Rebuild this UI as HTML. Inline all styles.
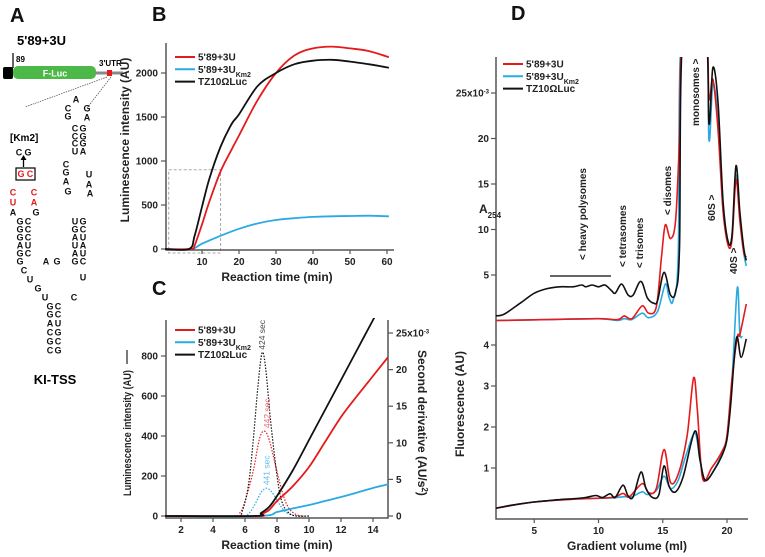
<!DOCTYPE html>
<html><head><meta charset="utf-8"><style>
html,body{margin:0;padding:0;background:#fff;}
svg{display:block;font-family:"Liberation Sans",sans-serif;}
.t{font-size:10px;font-weight:bold;fill:#222;}
.ti{font-size:12px;font-weight:bold;fill:#222;}
.lg{font-size:10px;font-weight:bold;fill:#222;}
.nt{font-size:9px;font-weight:bold;fill:#111;text-anchor:middle;dominant-baseline:middle;}
.rd{fill:#e41a1c;}
.pl{font-size:20px;font-weight:bold;fill:#111;}
</style></head><body>
<svg id="fig" width="765" height="557" viewBox="0 0 765 557">
<defs>
<clipPath id="clipB"><rect x="165" y="40" width="230" height="212"/></clipPath>
<clipPath id="clipC"><rect x="165" y="318" width="223" height="200"/></clipPath>
<clipPath id="clipD"><rect x="496" y="57" width="252" height="462"/></clipPath>
</defs>

<!-- Panel A -->
<g>
<text x="10" y="22" class="pl">A</text>
<text x="17" y="45" style="font-size:13px;font-weight:bold">5'89+3U</text>
<text x="16" y="62" style="font-size:8px;font-weight:bold">89</text>
<line x1="13" y1="53" x2="13" y2="68" stroke="#000" stroke-width="1.2"/>
<line x1="3" y1="73" x2="123" y2="73" stroke="#888" stroke-width="3"/>
<rect x="3" y="67" width="10" height="12" rx="2" fill="#000"/>
<rect x="13" y="66" width="83" height="13" rx="5" fill="#4cb848"/>
<text x="55" y="76.5" text-anchor="middle" style="font-size:9px;font-weight:bold;fill:#fff">F-Luc</text>
<text x="99" y="66" style="font-size:8px;font-weight:bold">3'UTR</text>
<rect x="107" y="70" width="5" height="6" fill="#e41a1c"/>
<line x1="107" y1="77" x2="25" y2="107" stroke="#444" stroke-width="0.7" stroke-dasharray="1.5,1"/>
<line x1="111" y1="77" x2="87" y2="108" stroke="#444" stroke-width="0.7" stroke-dasharray="1.5,1"/>
<text x="10" y="141" style="font-size:10px;font-weight:bold">[Km2]</text>
<g>
<text class="nt" x="19" y="153">C</text><text class="nt" x="28" y="153">G</text>
<line x1="23.5" y1="167" x2="23.5" y2="159" stroke="#000" stroke-width="1.3"/>
<polygon points="20.5,160 26.5,160 23.5,155" fill="#000"/>
<rect x="16" y="168" width="19" height="12" fill="none" stroke="#000" stroke-width="1.2"/>
<text class="nt rd" x="21" y="174.5">G</text><text class="nt rd" x="30" y="174.5">C</text>
<text class="nt rd" x="13" y="193">C</text><text class="nt rd" x="34" y="193">C</text>
<text class="nt rd" x="13" y="203">U</text><text class="nt rd" x="34" y="203">A</text>
<text class="nt" x="13" y="213">A</text><text class="nt" x="36" y="213">G</text>
<text class="nt" x="20" y="222">G</text><text class="nt" x="28" y="222">C</text>
<text class="nt" x="20" y="230">G</text><text class="nt" x="28" y="230">C</text>
<text class="nt" x="20" y="238">G</text><text class="nt" x="28" y="238">C</text>
<text class="nt" x="20" y="246">A</text><text class="nt" x="28" y="246">U</text>
<text class="nt" x="20" y="254">G</text><text class="nt" x="28" y="254">C</text>
<text class="nt" x="20" y="262">G</text>
<text class="nt" x="46" y="262">A</text><text class="nt" x="57" y="262">G</text>
<text class="nt" x="24" y="271">C</text>
<text class="nt" x="30" y="280">U</text>
<text class="nt" x="38" y="289">G</text>
<text class="nt" x="45" y="298">U</text>
<text class="nt" x="50" y="307">G</text><text class="nt" x="58" y="307">C</text>
<text class="nt" x="50" y="315">G</text><text class="nt" x="58" y="315">C</text>
<text class="nt" x="50" y="324">A</text><text class="nt" x="58" y="324">U</text>
<text class="nt" x="50" y="333">C</text><text class="nt" x="58" y="333">G</text>
<text class="nt" x="50" y="342">G</text><text class="nt" x="58" y="342">C</text>
<text class="nt" x="50" y="351">C</text><text class="nt" x="58" y="351">G</text>
<text class="nt" x="76" y="100">A</text>
<text class="nt" x="68" y="109">C</text><text class="nt" x="87" y="109">G</text>
<text class="nt" x="68" y="117">G</text><text class="nt" x="87" y="118">A</text>
<text class="nt" x="75" y="129">C</text><text class="nt" x="83" y="129">G</text>
<text class="nt" x="75" y="137">C</text><text class="nt" x="83" y="137">G</text>
<text class="nt" x="75" y="144">C</text><text class="nt" x="83" y="144">G</text>
<text class="nt" x="75" y="152">U</text><text class="nt" x="83" y="152">A</text>
<text class="nt" x="66" y="165">C</text>
<text class="nt" x="66" y="173">G</text><text class="nt" x="89" y="175">U</text>
<text class="nt" x="66" y="182">A</text><text class="nt" x="89" y="185">A</text>
<text class="nt" x="68" y="192">G</text><text class="nt" x="90" y="194">A</text>
<text class="nt" x="75" y="222">U</text><text class="nt" x="83" y="222">G</text>
<text class="nt" x="75" y="230">G</text><text class="nt" x="83" y="230">C</text>
<text class="nt" x="75" y="238">A</text><text class="nt" x="83" y="238">U</text>
<text class="nt" x="75" y="246">U</text><text class="nt" x="83" y="246">A</text>
<text class="nt" x="75" y="254">A</text><text class="nt" x="83" y="254">U</text>
<text class="nt" x="75" y="262">G</text><text class="nt" x="83" y="262">C</text>
<text class="nt" x="83" y="278">U</text>
<text class="nt" x="74" y="298">C</text>
</g>
<text x="55" y="384" text-anchor="middle" style="font-size:13px;font-weight:bold">KI-TSS</text>
</g>

<!-- Panel labels -->
<text x="152" y="21" class="pl">B</text>
<text x="152" y="295" class="pl">C</text>
<text x="511" y="20" class="pl">D</text>

<g id="gB"></g>
<g id="gC"></g>
<g id="gD"></g>
</svg>
<script>
// ---------- Panel B data ----------
const bRedX = [0,7,8,10,12,15,18,20,25,30,35,40,45,50,55,60.5];
const bRedY = [0,0,40,280,540,880,1130,1290,1690,2000,2200,2280,2300,2280,2250,2180];
const bBlackX = [0,6.5,8,10,12,15,18,20,25,30,35,40,45,50,55,60.5];
const bBlackY = [0,0,150,480,800,1160,1420,1530,1850,2000,2100,2140,2150,2130,2100,2060];
const bBlueX = [0,7,10,15,20,25,30,35,40,45,50,55,60.5];
const bBlueY = [0,0,60,150,230,290,330,350,365,372,375,378,372];
const bYTicks = [0,500,1000,1500,2000];
const bXTicks = [10,20,30,40,50,60];

// ---------- Panel C data ----------
const cBlackX = [1,6.6,7,7.5,8,9,10,11,12,13,14,14.3];
const cBlackY = [0,0,15,45,100,230,380,530,680,830,980,1025];
const cRedX = [1,6.7,7,7.5,8,9,10,11,12,13,14,15];
const cRedY = [0,0,8,30,75,150,245,370,495,600,700,800];
const cBlueX = [1,6.9,8,9,10,11,12,13,14,15];
const cBlueY = [0,0,20,38,55,75,95,117,140,160];
const cDerBlackX = [1,5.5,5.8,6.2,6.5,6.8,7.07,7.3,7.6,8.0,8.3,8.7,9.2,10];
const cDerBlackY = [0,0,0.5,4,10,17.5,22.3,20,13,5.5,2,0.5,0,0];
const cDerRedX = [1,5.3,5.7,6,6.5,6.9,7.2,7.5,7.9,8.3,8.7,9.2,9.7];
const cDerRedY = [0,0,0.5,2,6,10.5,11.6,10.5,7,3.5,1.2,0.2,0];
const cDerBlueX = [1,5.7,6.2,6.6,7,7.35,7.7,8.1,8.5,9,9.5,10];
const cDerBlueY = [0,0,0.3,1.5,3.2,3.8,3.2,1.8,0.6,0.1,0,0];
const cYTicks = [0,200,400,600,800];
const cY2Ticks = [0,5,10,15,20,25];
const cXTicks = [2,4,6,8,10,12,14];

// ---------- Panel D data ----------
const dUpBlackX = [2,2.5,3,4,5,6,7,8,8.7,9,9.5,10,10.5,11,11.3,11.8,12.3,12.7,13.3,13.8,14.3,14.6,15.1,15.6,16,16.3,16.6,18.3,18.6,18.9,19.3,19.7,20.1,20.4,20.7,21,21.3,21.5];
const dUpBlackY = [0.5,0.6,1,2,3,3.5,3.7,3.7,3.9,3.7,3.9,3.7,3.9,3.3,3.0,4.0,2.8,2.8,4.3,2.5,1.9,2.2,5.3,2.8,3.2,8,32,32,21.6,27.8,24,13,8.6,9.5,17,12,8,6.6];
const dUpRedX = [2,6,10,11.5,12,12.6,13.4,13.9,14.5,14.9,15.2,15.6,16,16.3,16.6,18.3,18.6,18.9,19.3,19.7,20.1,20.4,20.7,21,21.3,21.5];
const dUpRedY = [0,0.1,0.2,0.1,0.5,0.2,1.6,0.8,1.5,7,10.5,9,11,20,32,32,24.4,26.5,21,12,8.2,9,15.5,11,7.5,7];
const dUpBlueX = [2,6,10,11.5,12,12.6,13.4,13.9,14.6,15.2,15.5,15.8,16.2,16.5,18.3,18.6,18.9,19.3,19.7,20.1,20.4,20.7,21,21.3,21.5];
const dUpBlueY = [0,0.1,0.2,0,0.2,0.1,0.8,0.3,1,4,2.5,2.2,7,32,32,19.8,26,22,12,8.5,9.4,16,11.5,7.5,6];
const dLoBlackX = [2,3,4,5,6,7,8,9,9.8,10.3,10.9,11.3,11.9,12.3,12.7,13.3,13.7,14.2,14.7,15.1,15.5,16,16.6,17.5,17.9,18.3,19,19.6,20,20.3,20.6,20.8,21.1,21.5];
const dLoBlackY = [0.02,0.08,0.13,0.17,0.2,0.23,0.25,0.28,0.33,0.28,0.37,0.28,0.58,0.32,0.3,0.9,0.5,0.28,0.35,1.05,0.55,0.42,0.8,1.9,1.2,0.7,0.95,1.3,1.7,2.6,3.8,4.2,3.7,4.15];
const dLoRedX = [2,5,8,11,11.9,12.4,13.4,13.9,14.5,15.1,15.6,16.2,16.9,17.4,17.7,18.1,18.8,19.6,20,20.4,20.8,21,21.5];
const dLoRedY = [0.02,0.17,0.24,0.28,0.38,0.3,0.62,0.4,0.5,1.45,0.65,0.85,1.8,3.2,2.4,0.75,1.0,1.4,1.8,3.2,4.2,4.25,5];
const dLoBlueX = [2,5,8,11,12,12.6,13.4,13.8,14.5,15.1,15.6,16.2,16.8,17.5,17.9,18.3,19,19.6,20,20.4,20.8,21,21.2];
const dLoBlueY = [0.02,0.17,0.24,0.27,0.3,0.3,0.42,0.35,0.45,0.8,0.5,0.7,1.3,1.85,1.2,0.7,0.95,1.35,1.75,3.2,5.4,4.3,4.2];
const dUpTicks = [5,10,15,20,25];
const dLoTicks = [1,2,3,4];
const dXTicks = [5,10,15,20];

const NS = "http://www.w3.org/2000/svg";
const RED = "#e41a1c", BLUE = "#29aae2", BLACK = "#111";
function mk(parent, tag, attrs, txt) {
  const e = document.createElementNS(NS, tag);
  for (const k in attrs) e.setAttribute(k, attrs[k]);
  if (txt !== undefined) e.textContent = txt;
  parent.appendChild(e);
  return e;
}
function smooth(pts) {
  let d = "M" + pts[0][0].toFixed(1) + "," + pts[0][1].toFixed(1);
  for (let i = 0; i < pts.length - 1; i++) {
    const p0 = pts[Math.max(0, i - 1)], p1 = pts[i], p2 = pts[i + 1], p3 = pts[Math.min(pts.length - 1, i + 2)];
    const c1x = p1[0] + (p2[0] - p0[0]) / 6, c1y = p1[1] + (p2[1] - p0[1]) / 6;
    const c2x = p2[0] - (p3[0] - p1[0]) / 6, c2y = p2[1] - (p3[1] - p1[1]) / 6;
    d += "C" + c1x.toFixed(1) + "," + c1y.toFixed(1) + " " + c2x.toFixed(1) + "," + c2y.toFixed(1) + " " + p2[0].toFixed(1) + "," + p2[1].toFixed(1);
  }
  return d;
}
function series(parent, xs, ys, fx, fy, color, w, dash, clip, name) {
  const pts = xs.map((x, i) => [fx(x), fy(ys[i])]);
  const p = mk(parent, "path", {d: smooth(pts), fill: "none", stroke: color, "stroke-width": w, "clip-path": "url(#" + clip + ")", "stroke-linejoin": "round"});
  if (dash) p.setAttribute("stroke-dasharray", dash);
  
  
  return p;
}
function legend(parent, x, y, sub) {
  const items = [["5'89+3U", RED, false], ["5'89+3U", BLUE, true], ["TZ10\u03A9Luc", BLACK, false]];
  items.forEach((it, i) => {
    const g = mk(parent, "g", {});
    
    
    mk(g, "line", {x1: x, y1: y + i * 12.3, x2: x + 20, y2: y + i * 12.3, stroke: it[1], "stroke-width": 2});
    const t = mk(g, "text", {x: x + 23, y: y + i * 12.3 + 3.5, class: "lg"}, it[0]);
    if (it[2]) { mk(t, "tspan", {"baseline-shift": "sub", style: "font-size:7px"}, sub); }
  });
}

// ---------- Panel B ----------
(function () {
  const g = document.getElementById("gB");
  const bx = v => 165 + v * 3.7, by = v => 249 - v * 0.088;
  mk(g, "rect", {x: bx(1), y: by(900), width: bx(15) - bx(1), height: by(0) - by(900) + 4, fill: "none", stroke: "#aaa", "stroke-width": 1, "stroke-dasharray": "3,2"});
  const ax = mk(g, "path", {d: "M166,43 V250 H394", fill: "none", stroke: "#555", "stroke-width": 1.5});
  
  bYTicks.forEach(v => {
    mk(g, "line", {x1: 161, y1: by(v), x2: 166, y2: by(v), stroke: "#555", "stroke-width": 1.2});
    const t = mk(g, "text", {x: 158, y: by(v) + 3.5, class: "t", "text-anchor": "end"}, v);
    
    
  });
  bXTicks.forEach(v => {
    mk(g, "line", {x1: bx(v), y1: 250, x2: bx(v), y2: 254, stroke: "#555", "stroke-width": 1.2});
    const t = mk(g, "text", {x: bx(v), y: 265, class: "t", "text-anchor": "middle"}, v);
    
    
  });
  series(g, bBlueX, bBlueY, bx, by, BLUE, 1.8, null, "clipB", "b-series-km2");
  series(g, bRedX, bRedY, bx, by, RED, 1.8, null, "clipB", "b-series-5-89-3u");
  series(g, bBlackX, bBlackY, bx, by, BLACK, 1.8, null, "clipB", "b-series-tz10");
  legend(g, 175, 57, "Km2");
  const yt = mk(g, "text", {x: 0, y: 0, class: "ti", "text-anchor": "middle", transform: "translate(129,140) rotate(-90)"}, "Luminescence intensity (AU)");
  
  
  const xt = mk(g, "text", {x: 277, y: 281, class: "ti", "text-anchor": "middle"}, "Reaction time (min)");
  
  
})();

// ---------- Panel C ----------
(function () {
  const g = document.getElementById("gC");
  const cx = v => 149 + v * 16, cy = v => 516 - v * 0.2, cy2 = v => 516 - v * 7.32;
  const ax = mk(g, "path", {d: "M166,320 V518 H388 V320", fill: "none", stroke: "#555", "stroke-width": 1.5});
  
  cYTicks.forEach(v => {
    mk(g, "line", {x1: 161, y1: cy(v), x2: 166, y2: cy(v), stroke: "#555", "stroke-width": 1.2});
    const t = mk(g, "text", {x: 158, y: cy(v) + 3.5, class: "t", "text-anchor": "end"}, v);
    
    
  });
  cY2Ticks.forEach(v => {
    mk(g, "line", {x1: 388, y1: cy2(v), x2: 393, y2: cy2(v), stroke: "#555", "stroke-width": 1.2});
    const t = mk(g, "text", {x: 396, y: cy2(v) + 3.5, class: "t"}, v === 25 ? "25x10" : v);
    if (v === 25) mk(t, "tspan", {"baseline-shift": "super", style: "font-size:6px"}, "-3");
    
    
  });
  cXTicks.forEach(v => {
    mk(g, "line", {x1: cx(v), y1: 518, x2: cx(v), y2: 522, stroke: "#555", "stroke-width": 1.2});
    const t = mk(g, "text", {x: cx(v), y: 533, class: "t", "text-anchor": "middle"}, v);
    
    
  });
  series(g, cDerBlueX, cDerBlueY, cx, cy2, BLUE, 1.2, "1.5,1.5", "clipC", "c-deriv-km2");
  series(g, cDerRedX, cDerRedY, cx, cy2, RED, 1.2, "1.5,1.5", "clipC", "c-deriv-5-89-3u");
  series(g, cDerBlackX, cDerBlackY, cx, cy2, BLACK, 1.2, "1.5,1.5", "clipC", "c-deriv-tz10");
  series(g, cBlueX, cBlueY, cx, cy, BLUE, 1.8, null, "clipC", "c-series-km2");
  series(g, cRedX, cRedY, cx, cy, RED, 1.8, null, "clipC", "c-series-5-89-3u");
  series(g, cBlackX, cBlackY, cx, cy, BLACK, 1.8, null, "clipC", "c-series-tz10");
  const pk = [["424 sec", 7.07, 22.3, "#444"], ["442 sec", 7.37, 11.6, "#e8606a"], ["441 sec", 7.35, 3.8, "#5bbde8"]];
  pk.forEach(p => {
    const t = mk(g, "text", {x: 0, y: 0, "text-anchor": "start", style: "font-size:8.5px;fill:" + p[3], transform: "translate(" + (cx(p[1]) + 3) + "," + (cy2(p[2]) - 3) + ") rotate(-90)"}, p[0]);
    
    
  });
  legend(g, 175, 330, "Km2");
  const yt = mk(g, "text", {x: 0, y: 0, class: "ti", "text-anchor": "middle", textLength: "126", lengthAdjust: "spacingAndGlyphs", style: "font-size:11px", transform: "translate(131,433) rotate(-90)"}, "Luminescence intensity (AU)");
  
  
  mk(g, "line", {x1: 127, y1: 350, x2: 127, y2: 364, stroke: "#222", "stroke-width": 1.2});
  const y2 = mk(g, "text", {x: 0, y: 0, class: "ti", transform: "translate(418,350) rotate(90)"}, "Second derivative (AU/s");
  mk(y2, "tspan", {"baseline-shift": "super", style: "font-size:8px"}, "2");
  mk(y2, "tspan", {}, ")");
  
  
  mk(g, "line", {x1: 422, y1: 476, x2: 422, y2: 494, stroke: "#444", "stroke-width": 1, "stroke-dasharray": "1,1.5"});
  const xt = mk(g, "text", {x: 277, y: 549, class: "ti", "text-anchor": "middle"}, "Reaction time (min)");
  
  
})();

// ---------- Panel D ----------
(function () {
  const g = document.getElementById("gD");
  const dx = v => 470 + v * 12.85, du = v => 320.5 - v * 9.1, dl = v => 509 - v * 41;
  const ax = mk(g, "path", {d: "M496,57 V519 H748", fill: "none", stroke: "#555", "stroke-width": 1.5});
  
  dUpTicks.forEach(v => {
    mk(g, "line", {x1: 491, y1: du(v), x2: 496, y2: du(v), stroke: "#555", "stroke-width": 1.2});
    const t = mk(g, "text", {x: 489, y: du(v) + 3.5, class: "t", "text-anchor": "end"}, v === 25 ? "25x10" : v);
    if (v === 25) mk(t, "tspan", {"baseline-shift": "super", style: "font-size:6px"}, "-3");
    
    
  });
  dLoTicks.forEach(v => {
    mk(g, "line", {x1: 491, y1: dl(v), x2: 496, y2: dl(v), stroke: "#555", "stroke-width": 1.2});
    const t = mk(g, "text", {x: 489, y: dl(v) + 3.5, class: "t", "text-anchor": "end"}, v);
    
    
  });
  dXTicks.forEach(v => {
    mk(g, "line", {x1: dx(v), y1: 519, x2: dx(v), y2: 523, stroke: "#555", "stroke-width": 1.2});
    const t = mk(g, "text", {x: dx(v), y: 534, class: "t", "text-anchor": "middle"}, v);
    
    
  });
  series(g, dLoBlueX, dLoBlueY, dx, dl, BLUE, 1.6, null, "clipD", "d-fluor-km2");
  series(g, dLoRedX, dLoRedY, dx, dl, RED, 1.6, null, "clipD", "d-fluor-5-89-3u");
  series(g, dLoBlackX, dLoBlackY, dx, dl, BLACK, 1.6, null, "clipD", "d-fluor-tz10");
  series(g, dUpBlueX, dUpBlueY, dx, du, BLUE, 1.6, null, "clipD", "d-a254-km2");
  series(g, dUpRedX, dUpRedY, dx, du, RED, 1.6, null, "clipD", "d-a254-5-89-3u");
  series(g, dUpBlackX, dUpBlackY, dx, du, BLACK, 1.6, null, "clipD", "d-a254-tz10");
  mk(g, "line", {x1: 550, y1: 276, x2: 611, y2: 276, stroke: "#333", "stroke-width": 1.5});
  const ann = [["< heavy  polysomes", 586, 260], ["< tetrasomes", 626, 267], ["< trisomes", 643, 268], ["< disomes", 671, 215], ["monosomes >", 699, 126], ["60S >", 715, 221], ["40S >", 737, 274]];
  ann.forEach(a => {
    const t = mk(g, "text", {x: 0, y: 0, style: "font-size:10px;font-weight:bold;fill:#222", transform: "translate(" + a[1] + "," + a[2] + ") rotate(-90)"}, a[0]);
    
    
  });
  legend(g, 503, 64, "Km2");
  const a = mk(g, "text", {x: 479, y: 213, class: "ti"}, "A");
  mk(a, "tspan", {"baseline-shift": "sub", style: "font-size:8px"}, "254");
  
  
  const f = mk(g, "text", {x: 0, y: 0, class: "ti", "text-anchor": "middle", transform: "translate(464,404) rotate(-90)"}, "Fluorescence (AU)");
  
  
  const xt = mk(g, "text", {x: 627, y: 550, class: "ti", "text-anchor": "middle"}, "Gradient volume (ml)");
  
  
})();
</script>
</body></html>
